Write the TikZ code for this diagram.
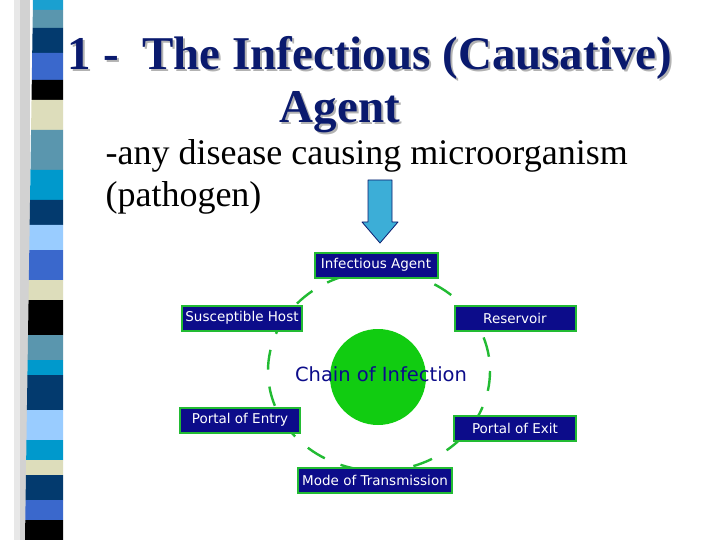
\documentclass[tikz,border=0pt]{standalone}
\usepackage{fontspec}
\setmainfont{Liberation Serif}
\newfontfamily\boxfont{DejaVu Sans}
\definecolor{navyt}{HTML}{0A1A6E}
\definecolor{boxblue}{HTML}{0C0C8A}
\definecolor{ringgreen}{HTML}{22BB33}
\definecolor{ballgreen}{HTML}{11CC11}
\definecolor{sA}{HTML}{1AA0D0}\definecolor{sB}{HTML}{5A96AE}\definecolor{sC}{HTML}{033A6E}
\definecolor{sD}{HTML}{3A68CC}\definecolor{sE}{HTML}{000000}\definecolor{sF}{HTML}{DDDDBB}
\definecolor{sG}{HTML}{99CCFF}\definecolor{sH}{HTML}{0099CC}
\begin{document}
\begin{tikzpicture}[x=1pt,y=-1pt,
  chainbox/.style={draw=ringgreen,line width=2pt,fill=boxblue,text=white,font=\boxfont\fontsize{13.5}{15}\selectfont,inner xsep=3pt,minimum height=25pt,anchor=center},
  titletext/.style={text=navyt,font=\bfseries\fontsize{47}{52}\selectfont},
  bodytext/.style={text=black,font=\fontsize{36}{40}\selectfont,anchor=west}]
\useasboundingbox (0,0) rectangle (720,540);
\fill[white] (0,0) rectangle (720,540);
\fill[gray!35] (20,0) rectangle (30,540);
\fill[gray!18] (14,0) rectangle (20,540);
\foreach \ya/\yb/\c in {0/10/sA,10/28/sB,28/53/sC,53/80/sD,80/100/sE,100/130/sF,130/170/sB,170/200/sH,200/225/sC,225/250/sG,250/280/sD,280/300/sF,300/335/sE,335/360/sB,360/375/sH,375/410/sC,410/440/sG,440/460/sH,460/475/sF,475/500/sC,500/520/sD,520/540/sE}{
  \fill[\c] ({33-8*\ya/540},\ya) -- (63,\ya) -- (63,\yb) -- ({33-8*\yb/540},\yb) -- cycle;
}
\node[titletext,text=gray!60] (t1s) at (372,60) {1 -\ \ The Infectious (Causative)};
\node[titletext] (t1) at (370,58) {1 -\ \ The Infectious (Causative)};
\node[titletext,text=gray!60] (t2s) at (342,114) {Agent};
\node[titletext] (t2) at (340,112) {Agent};
\node[bodytext] (b1) at (102,156) {-any disease causing microorganism};
\node[bodytext] (b2) at (102,198) {(pathogen)};
% arrow
\coordinate (arrtip) at (380,243);
\filldraw[draw=navyt,fill=sA!85!white,line width=0.8pt,line join=round]
  (368,180) -- (392,180) -- (392,222) -- (398,222) -- (arrtip) -- (362,222) -- (368,222) -- cycle;
% ring
\draw[ringgreen,line width=2.4pt,dash pattern=on 20pt off 17pt] (379,371) ellipse (111 and 100);
\node[circle,fill=ballgreen,minimum size=96pt,inner sep=0pt] (ball) at (378,377) {};
\node[text=boxblue,font=\boxfont\fontsize{19.5}{22}\selectfont] (chain) at (381,374) {Chain of Infection};
\node[chainbox,minimum width=123pt] (ia) at (376,265) {Infectious Agent};
\node[chainbox,minimum width=120pt] (sh) at (242,318) {Susceptible Host};
\node[chainbox,minimum width=121pt] (re) at (515,318) {Reservoir};
\node[chainbox,minimum width=120pt] (pe) at (240,420) {Portal of Entry};
\node[chainbox,minimum width=122pt] (px) at (515,428) {Portal of Exit};
\node[chainbox,minimum width=154pt] (mt) at (375,480) {Mode of Transmission};
\end{tikzpicture}
\end{document}
